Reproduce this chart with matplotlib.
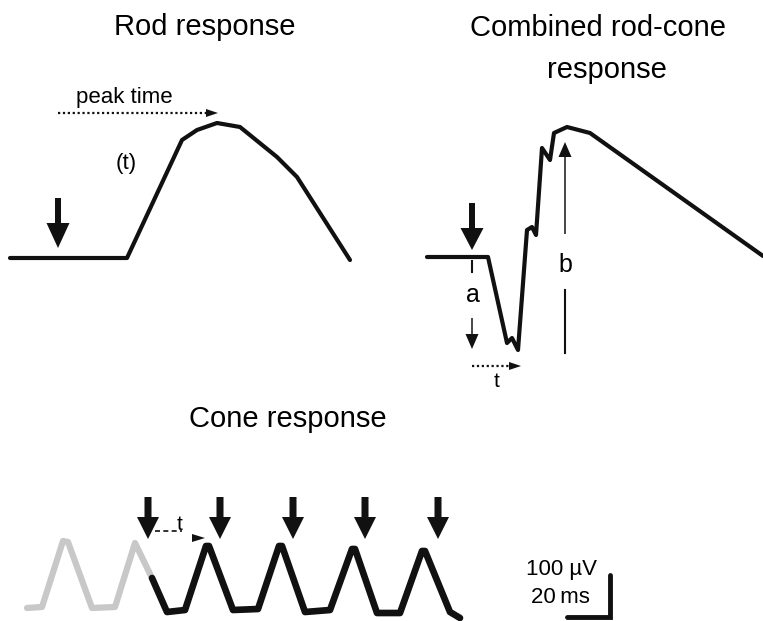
"""ERG schematic: rod, combined rod-cone and cone (flicker) responses."""
import matplotlib

matplotlib.use("Agg")
import matplotlib.pyplot as plt

plt.rcParams["font.family"] = ["Liberation Sans", "DejaVu Sans"]

W, H = 763, 621
INK = "#111111"
GREY = "#c8c8c8"

# ── traces (x = time, y = amplitude, both in drawing units, y grows downward) ──
rod_t = [10, 127, 182, 197, 217, 240, 277, 297, 350]
rod_v = [258, 258, 140, 130, 123, 127, 157, 177, 260]

combo_t = [427, 488, 507, 512, 518, 527, 532, 536, 542, 550, 554, 567, 590, 763]
combo_v = [257, 257, 343, 338, 350, 230, 227, 235, 148, 160, 133, 127, 133, 256]

cone_pre_t = [27, 42, 63, 68, 92, 115, 135, 152]
cone_pre_v = [608, 607, 541, 542, 608, 607, 543, 578]
cone_t = [152, 167, 185, 206, 209, 233, 258, 279, 282, 305, 330, 352, 355, 377, 400, 422, 425, 450, 460]
cone_v = [578, 612, 610, 546, 546, 610, 609, 546, 546, 612, 610, 549, 549, 613, 613, 551, 551, 612, 618]

# stimulus flashes
cone_flash_x = [148, 220, 293, 365, 438]
rod_flash_x = 58
combo_flash_x = 472

fig = plt.figure(figsize=(W / 100, H / 100), dpi=100)
ax = fig.add_axes([0, 0, 1, 1])
ax.set_xlim(0, W)
ax.set_ylim(H, 0)
ax.axis("off")


def flash(x, y0, y1, shaft=6, hw=23, hl=25):
    ax.arrow(x, y0, 0, y1 - y0, width=shaft, head_width=hw, head_length=hl,
             length_includes_head=True, color=INK, lw=0)


def head(x_tip, y, hw=8, hl=12):
    ax.arrow(x_tip - hl, y, hl, 0, width=0.01, head_width=hw, head_length=hl,
             length_includes_head=True, color=INK, lw=0)


line_kw = dict(solid_capstyle="round", solid_joinstyle="round")

# ── Rod response ───────────────────────────────────────────────────────────
ax.text(205, 35, "Rod response", fontsize=21, ha="center", va="baseline")
ax.plot(rod_t, rod_v, color=INK, lw=3, **line_kw)
flash(rod_flash_x, 198, 248)
ax.plot([58, 206], [113, 113], color=INK, lw=1.6, ls=(0, (1, 1.2)))
head(218, 113)
ax.text(124, 103, "peak time", fontsize=16, ha="center", va="baseline")
ax.text(126, 163, "(t)", fontsize=16, ha="center", va="center")

# ── Combined rod-cone response ─────────────────────────────────────────────
ax.text(598, 36, "Combined rod-cone", fontsize=21, ha="center", va="baseline")
ax.text(607, 78, "response", fontsize=21, ha="center", va="baseline")
ax.plot(combo_t, combo_v, color=INK, lw=3, **line_kw)
flash(combo_flash_x, 203, 250, hl=22)
ax.plot([472, 472], [261, 272], color=INK, lw=1.5)
ax.text(473, 302, "a", fontsize=18, ha="center", va="baseline")
flash(472, 318, 349, shaft=1.5, hw=13, hl=15)
ax.plot([472, 509], [366, 366], color=INK, lw=1.6, ls=(0, (1, 1.2)))
head(521, 366)
ax.text(497, 387, "t", fontsize=15, ha="center", va="baseline")
flash(565, 234, 142, shaft=1.5, hw=13, hl=15)
ax.plot([565, 565], [290, 353], color=INK, lw=1.5)
ax.text(565, 272, "b", fontsize=18, ha="center", va="baseline")

# ── Cone response ──────────────────────────────────────────────────────────
ax.text(288, 427, "Cone response", fontsize=21, ha="center", va="baseline")
ax.plot(cone_pre_t, cone_pre_v, color=GREY, lw=4.5, **line_kw)
ax.plot(cone_t, cone_v, color=INK, lw=4.8, **line_kw)
for x in cone_flash_x:
    flash(x, 497, 539, shaft=7, hw=22, hl=22)
ax.plot([155, 182], [531, 531], color=INK, lw=1.2, ls=(0, (3, 2)))
head(205, 538, hw=8, hl=13)
ax.text(180, 530, "t", fontsize=15, ha="center", va="baseline")

# scale bar
ax.plot([567, 610, 610], [617, 617, 575], color=INK, lw=3.5,
        solid_capstyle="round", solid_joinstyle="miter")
ax.text(562, 575, "100 µV", fontsize=16, ha="center", va="baseline")
ax.text(560, 603, "20\u2009ms", fontsize=16, ha="center", va="baseline")

fig.savefig("out.png", dpi=100)
